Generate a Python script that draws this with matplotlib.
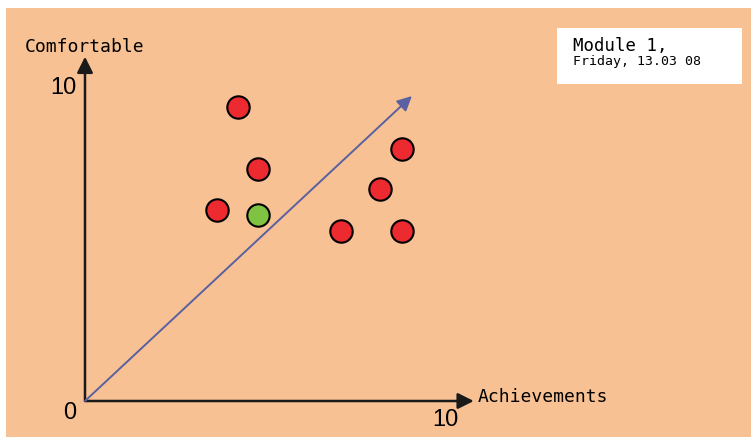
import matplotlib.pyplot as plt
from matplotlib.patches import Rectangle

# values (0..10 scale)
red_x = [4.25, 4.8, 3.67, 7.1, 8.2, 8.8, 8.8]
red_y = [9.33, 7.37, 6.06, 5.4, 6.73, 8.0, 5.4]
green_x = [4.8]
green_y = [5.9]
trend_end = (9.08, 9.68)
axis_labels = ['Achievements', 'Comfortable']
tick_labels = ['0', '10']
box_title = 'Module 1,'
box_date = 'Friday, 13.03 08'

bg = '#F7C193'
red = '#EC2A30'
green = '#80C343'
arrow_col = '#5A60A0'

fig = plt.figure(figsize=(7.51, 4.37), dpi=100)
fig.patch.set_facecolor('white')
ax = fig.add_axes([0, 0, 1, 1])
# pixel -> data: x = (px-85)/36, y = (401-py)/31.5
ax.set_xlim(-85 / 36, 666 / 36)
ax.set_ylim(-36 / 31.5, 401 / 31.5)
ax.axis('off')

# orange panel
ax.add_patch(Rectangle((6 / 751, 0), 1, 1 - 8 / 437, transform=ax.transAxes,
                       facecolor=bg, edgecolor='none', zorder=0))

# white note box
ax.add_patch(Rectangle((557 / 751, 1 - 84 / 437), 185 / 751, 56 / 437,
                       transform=ax.transAxes, facecolor='white',
                       edgecolor='none', zorder=1))
ax.text(573 / 751, 1 - 46 / 437, box_title, family='DejaVu Sans Mono', fontsize=12.5,
        va='center', ha='left', transform=ax.transAxes, zorder=2)
ax.text(573 / 751, 1 - 62 / 437, box_date, family='DejaVu Sans Mono', fontsize=9.5,
        va='center', ha='left', transform=ax.transAxes, zorder=2)

# axes with arrow heads
ax.annotate('', xy=(10.8, 0), xytext=(0, 0),
            arrowprops=dict(arrowstyle='-|>', color='#1a1a1a', lw=1.8,
                            mutation_scale=24, shrinkA=0, shrinkB=0))
ax.annotate('', xy=(0, 10.93), xytext=(0, 0),
            arrowprops=dict(arrowstyle='-|>', color='#1a1a1a', lw=1.8,
                            mutation_scale=24, shrinkA=0, shrinkB=0))

# trend arrow
ax.annotate('', xy=trend_end, xytext=(0, 0),
            arrowprops=dict(arrowstyle='-|>', color=arrow_col, lw=1.4,
                            mutation_scale=22, shrinkA=0, shrinkB=0))

ax.scatter(red_x, red_y, s=260, c=red, edgecolors='black', linewidths=1.5, zorder=5)
ax.scatter(green_x, green_y, s=260, c=green, edgecolors='black', linewidths=1.5, zorder=5)

ax.text(10.92, 0.13, axis_labels[0], family='DejaVu Sans Mono', fontsize=13,
        ha='left', va='center')
ax.text(-1.67, 11.25, axis_labels[1], family='DejaVu Sans Mono', fontsize=13,
        ha='left', va='center')
ax.text(-0.42, -0.37, tick_labels[0], family='Liberation Sans', fontsize=17,
        ha='center', va='center')
ax.text(10.0, -0.6, tick_labels[1], family='Liberation Sans', fontsize=17,
        ha='center', va='center')
ax.text(-0.6, 9.95, tick_labels[1], family='Liberation Sans', fontsize=17,
        ha='center', va='center')

fig.savefig('out.png', dpi=100, facecolor='white')
